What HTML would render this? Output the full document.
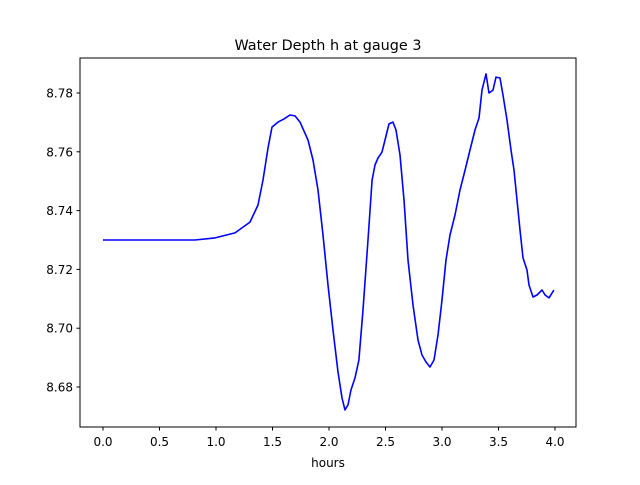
<!DOCTYPE html>
<html><head><meta charset="utf-8"><style>
body{margin:0;background:#fff}
svg text{font-family:"DejaVu Sans","Liberation Sans",sans-serif;font-size:12px;fill:#000}
</style></head><body>
<svg id="chart" width="640" height="480" xmlns="http://www.w3.org/2000/svg">
<rect width="640" height="480" fill="#fff"/>
<text x="328" y="50" text-anchor="middle" style="font-size:14.4px">Water Depth h at gauge 3</text>
<g id="marks"></g>
<g id="axes"></g>
<rect x="80" y="58" width="496" height="369" fill="none" stroke="#000" stroke-width="1"/>
<text x="328" y="467" text-anchor="middle">hours</text>
</svg>
<script>
const hours=[0,0.416,0.814,0.991,1.168,1.301,1.372,1.416,1.460,1.496,1.549,1.602,1.655,1.699,1.743,1.814,1.858,1.903,1.947,1.991,2.035,2.080,2.115,2.142,2.168,2.195,2.230,2.265,2.301,2.345,2.381,2.407,2.434,2.469,2.496,2.531,2.566,2.593,2.628,2.664,2.699,2.743,2.788,2.823,2.858,2.894,2.929,2.965,3.000,3.035,3.071,3.115,3.159,3.204,3.248,3.292,3.327,3.354,3.389,3.416,3.451,3.478,3.513,3.540,3.575,3.611,3.637,3.664,3.690,3.717,3.752,3.770,3.805,3.841,3.885,3.912,3.947,3.990];
const depth=[8.7300,8.7300,8.7300,8.7307,8.7324,8.7361,8.7419,8.7504,8.7613,8.7684,8.7701,8.7712,8.7725,8.7722,8.7701,8.7640,8.7572,8.7470,8.7317,8.7147,8.6994,8.6851,8.6763,8.6722,8.6739,8.6790,8.6831,8.6892,8.7062,8.7300,8.7504,8.7555,8.7579,8.7599,8.7640,8.7695,8.7701,8.7674,8.7589,8.7436,8.7232,8.7079,8.6960,8.6909,8.6885,8.6868,8.6892,8.6977,8.7096,8.7232,8.7317,8.7385,8.7470,8.7538,8.7606,8.7674,8.7715,8.7810,8.7865,8.7800,8.7810,8.7854,8.7851,8.7793,8.7708,8.7606,8.7538,8.7436,8.7334,8.7239,8.7198,8.7147,8.7106,8.7113,8.7130,8.7113,8.7103,8.7130];
const xTicks=[0,0.5,1.0,1.5,2.0,2.5,3.0,3.5,4.0];
const yTicks=[8.68,8.70,8.72,8.74,8.76,8.78];
const NS="http://www.w3.org/2000/svg";
function xs(v){return 103+(v-0)*(555-103)/4;}
function ys(v){return 387-(v-8.68)*(387-93)/0.10;}
const axes=document.getElementById('axes');
xTicks.forEach(t=>{
  const l=document.createElementNS(NS,'line');
  
  
  l.setAttribute('x1',xs(t));l.setAttribute('x2',xs(t));l.setAttribute('y1',427);l.setAttribute('y2',430.5);l.setAttribute('stroke','#000');
  axes.appendChild(l);
  const tx=document.createElementNS(NS,'text');
  
  
  tx.setAttribute('x',xs(t));tx.setAttribute('y',446);tx.setAttribute('text-anchor','middle');
  tx.textContent=t.toFixed(1);axes.appendChild(tx);
});
yTicks.forEach(t=>{
  const l=document.createElementNS(NS,'line');
  
  
  l.setAttribute('x1',76.5);l.setAttribute('x2',80);l.setAttribute('y1',ys(t));l.setAttribute('y2',ys(t));l.setAttribute('stroke','#000');
  axes.appendChild(l);
  const tx=document.createElementNS(NS,'text');
  
  
  tx.setAttribute('x',73);tx.setAttribute('y',ys(t)+4.5);tx.setAttribute('text-anchor','end');
  tx.textContent=t.toFixed(2);axes.appendChild(tx);
});
const p=document.createElementNS(NS,'path');


p.setAttribute('d',hours.map((h,i)=>(i?'L':'M')+xs(h).toFixed(1)+','+ys(depth[i]).toFixed(1)).join(''));
p.setAttribute('fill','none');p.setAttribute('stroke','#0000ff');p.setAttribute('stroke-width','1.6');p.setAttribute('stroke-linejoin','round');
document.getElementById('marks').appendChild(p);
</script>
</body></html>
